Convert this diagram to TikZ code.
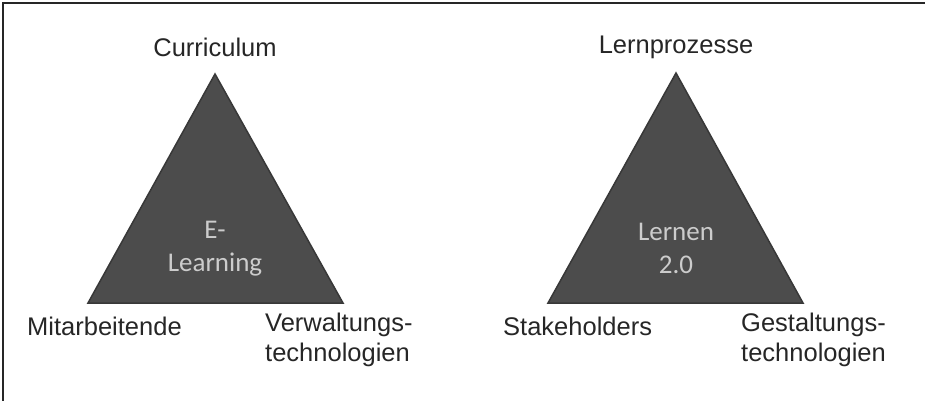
\documentclass[tikz,border=0pt]{standalone}
\usepackage{fontspec}
\setmainfont{Liberation Sans}
\newfontfamily\innerfont{Carlito}
\begin{document}
\begin{tikzpicture}[x=1pt,y=-1pt,
  corner/.style={font=\fontsize{25.5}{30}\selectfont, text=black!85, inner sep=0pt, align=left},
  apexlabel/.style={font=\fontsize{25.5}{30}\selectfont, text=black!85, inner sep=0pt},
  center/.style={font=\innerfont\fontsize{27}{33}\selectfont, text=black!20, inner sep=0pt, align=center},
  tri/.style={fill=black!70, draw=black!78, line width=1.5pt, line join=miter}]
  \useasboundingbox (0,0) rectangle (925,401);
  % frame (top and left edges)
  \draw[line width=1.6pt, black!85] (925,3) -- (3,3) -- (3,401);

  % left triangle
  \coordinate (a1) at (215,74);
  \coordinate (b1) at (88,303);
  \coordinate (c1) at (343,303);
  \draw[tri] (a1) -- (b1) -- (c1) -- cycle;
  \node[center] (t1) at (215,249) {E-\\Learning};
  \node[apexlabel] (n1) at (215,47) {Curriculum};
  \node[corner, anchor=west] (l1) at (27,326) {Mitarbeitende};
  \node[corner, anchor=north west] (r1) at (265,313) {Verwaltungs-\\technologien};

  % right triangle
  \coordinate (a2) at (676,73);
  \coordinate (b2) at (548,303);
  \coordinate (c2) at (803,303);
  \draw[tri] (a2) -- (b2) -- (c2) -- cycle;
  \node[center] (t2) at (676,248) {Lernen\\2.0};
  \node[apexlabel] (n2) at (676,47) {Lernprozesse};
  \node[corner, anchor=west] (l2) at (503,326) {Stakeholders};
  \node[corner, anchor=north west] (r2) at (741,313) {Gestaltungs-\\technologien};
\end{tikzpicture}
\end{document}
